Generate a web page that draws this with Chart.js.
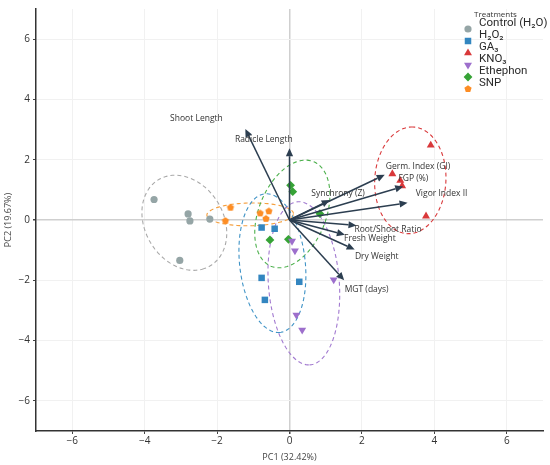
<!DOCTYPE html>
<html>
<head>
<meta charset="utf-8">
<script src="https://cdn.jsdelivr.net/npm/chart.js@4.4.1/dist/chart.umd.min.js"></script>
<style>
  html, body { margin: 0; padding: 0; background: #fff; }
  #wrap { width: 550px; height: 465px; }
</style>
</head>
<body>
<div id="wrap"><canvas id="pca"></canvas></div>
<script>
// scores per treatment (PC1, PC2)
const treatments = ["Control (H\u2082O)", "H\u2082O\u2082", "GA\u2083", "KNO\u2083", "Ethephon", "SNP"];
const controlPC1 = [-3.74, -2.80, -2.75, -2.20, -3.03];
const controlPC2 = [0.68, 0.20, -0.03, 0.03, -1.34];
const h2o2PC1 = [-0.77, -0.41, -0.77, -0.68, 0.27];
const h2o2PC2 = [-0.25, -0.29, -1.92, -2.65, -2.05];
const ga3PC1 = [3.90, 2.84, 3.06, 3.11, 3.77];
const ga3PC2 = [2.48, 1.53, 1.31, 1.13, 0.13];
const kno3PC1 = [0.07, 0.15, 1.22, 0.19, 0.35];
const kno3PC2 = [-0.70, -1.02, -1.98, -3.15, -3.65];
const ethephonPC1 = [0.03, 0.09, 0.84, -0.54, -0.03];
const ethephonPC2 = [1.15, 0.94, 0.21, -0.66, -0.64];
const snpPC1 = [-1.63, -1.77, -0.81, -0.57, -0.65];
const snpPC2 = [0.41, -0.03, 0.22, 0.29, 0.04];

// loadings (arrow tips) and where their labels sit, in PC units
const variables = ["Shoot Length", "Radicle Length", "Germ. Index (GI)", "FGP (%)", "Vigor Index II",
  "Synchrony (Z)", "Root/Shoot Ratio", "Fresh Weight", "Dry Weight", "MGT (days)"];
const loadPC1 = [-1.22, 0.00, 2.63, 3.14, 3.26, 1.11, 1.85, 1.53, 1.80, 1.51];
const loadPC2 = [3.02, 2.38, 1.50, 1.11, 0.57, 0.66, -0.18, -0.49, -0.98, -2.00];
const labelPC1 = [-2.57, -0.71, 3.55, 3.42, 4.20, 1.34, 2.72, 2.22, 2.41, 2.13];
const labelPC2 = [3.38, 2.68, 1.77, 1.39, 0.87, 0.87, -0.33, -0.61, -1.21, -2.32];

const tickValues = [-6, -4, -2, 0, 2, 4, 6];

const groupsPC1 = [controlPC1, h2o2PC1, ga3PC1, kno3PC1, ethephonPC1, snpPC1];
const groupsPC2 = [controlPC2, h2o2PC2, ga3PC2, kno3PC2, ethephonPC2, snpPC2];
const colors = ["#95a5a6", "#3386c0", "#d9383a", "#9d6fcc", "#36a336", "#fd8d24"];
const ellipseColors = ["#a9a9a9", "#3f93c6", "#d9383a", "#a27ad0", "#4cb04c", "#f5a040"];
const FONT = "'Open Sans', 'DejaVu Sans', sans-serif";
const LEGEND_FONT = "Roboto, 'DejaVu Sans', sans-serif";

function pentagon(color, r) {
  const c = document.createElement("canvas");
  const s = Math.ceil(r * 2 + 2);
  c.width = s; c.height = s;
  const g = c.getContext("2d");
  g.fillStyle = color;
  g.beginPath();
  for (let i = 0; i < 5; i++) {
    const a = -Math.PI / 2 + i * 2 * Math.PI / 5;
    const px = s / 2 + r * Math.cos(a), py = s / 2 + r * Math.sin(a);
    i ? g.lineTo(px, py) : g.moveTo(px, py);
  }
  g.closePath();
  g.fill();
  return c;
}

const markers = [
  { pointStyle: "circle", radius: 3.6, rotation: 0 },
  { pointStyle: "rect", radius: 4.6, rotation: 0 },
  { pointStyle: "triangle", radius: 4.6, rotation: 0 },
  { pointStyle: "triangle", radius: 4.6, rotation: 180 },
  { pointStyle: "rectRot", radius: 4.4, rotation: 0 },
  { pointStyle: pentagon(colors[5], 3.8), radius: 4, rotation: 0 }
];

// confidence-style ellipse from the group's mean and sample covariance
function ellipse(xs, ys, k) {
  const n = xs.length;
  const mx = xs.reduce((a, b) => a + b, 0) / n;
  const my = ys.reduce((a, b) => a + b, 0) / n;
  let sxx = 0, syy = 0, sxy = 0;
  for (let i = 0; i < n; i++) {
    sxx += (xs[i] - mx) ** 2;
    syy += (ys[i] - my) ** 2;
    sxy += (xs[i] - mx) * (ys[i] - my);
  }
  sxx /= n - 1; syy /= n - 1; sxy /= n - 1;
  const tr = sxx + syy, det = sxx * syy - sxy * sxy;
  const d = Math.sqrt(Math.max(tr * tr / 4 - det, 0));
  const l1 = tr / 2 + d, l2 = Math.max(tr / 2 - d, 0);
  const th = 0.5 * Math.atan2(2 * sxy, sxx - syy);
  const a = k * Math.sqrt(l1), b = k * Math.sqrt(l2);
  const pts = [];
  for (let i = 0; i <= 120; i++) {
    const t = i / 120 * 2 * Math.PI;
    pts.push({
      x: mx + a * Math.cos(t) * Math.cos(th) - b * Math.sin(t) * Math.sin(th),
      y: my + a * Math.cos(t) * Math.sin(th) + b * Math.sin(t) * Math.cos(th)
    });
  }
  return pts;
}

const datasets = [];
treatments.forEach((name, i) => {
  datasets.push({
    label: name,
    data: groupsPC1[i].map((x, j) => ({ x: x, y: groupsPC2[i][j] })),
    backgroundColor: colors[i],
    borderWidth: 0,
    pointStyle: markers[i].pointStyle,
    pointRadius: markers[i].radius,
    pointRotation: markers[i].rotation,
    order: 1
  });
  datasets.push({
    label: name + " ellipse",
    data: ellipse(groupsPC1[i], groupsPC2[i], 2.1),
    showLine: true,
    borderColor: ellipseColors[i],
    borderWidth: 1.1,
    borderDash: [4, 3],
    pointRadius: 0,
    fill: false,
    order: 2
  });
});

const biplot = {
  id: "biplot",
  afterDatasetsDraw(chart) {
    const ctx = chart.ctx, xs = chart.scales.x, ys = chart.scales.y;
    const ox = xs.getPixelForValue(0), oy = ys.getPixelForValue(0);
    ctx.save();
    ctx.strokeStyle = "#2c3e50";
    ctx.fillStyle = "#2c3e50";
    ctx.lineWidth = 1.5;
    variables.forEach((v, i) => {
      const tx = xs.getPixelForValue(loadPC1[i]), ty = ys.getPixelForValue(loadPC2[i]);
      const ang = Math.atan2(ty - oy, tx - ox);
      const hl = 8, hw = 3.6;
      const bx = tx - hl * Math.cos(ang), by = ty - hl * Math.sin(ang);
      ctx.beginPath();
      ctx.moveTo(ox, oy);
      ctx.lineTo(bx, by);
      ctx.stroke();
      ctx.beginPath();
      ctx.moveTo(tx, ty);
      ctx.lineTo(bx + hw * Math.sin(ang), by - hw * Math.cos(ang));
      ctx.lineTo(bx - hw * Math.sin(ang), by + hw * Math.cos(ang));
      ctx.closePath();
      ctx.fill();
    });
    ctx.fillStyle = "#333";
    ctx.font = "8.5px " + FONT;
    ctx.textAlign = "center";
    ctx.textBaseline = "middle";
    variables.forEach((v, i) => {
      ctx.fillText(v, xs.getPixelForValue(labelPC1[i]), ys.getPixelForValue(labelPC2[i]));
    });
    ctx.restore();
  },
  afterDraw(chart) {
    const ctx = chart.ctx, area = chart.chartArea;
    ctx.save();
    // axis titles
    ctx.fillStyle = "#444";
    ctx.font = "9px " + FONT;
    ctx.textAlign = "center";
    ctx.textBaseline = "middle";
    ctx.fillText("PC1 (32.42%)", (area.left + area.right) / 2, area.bottom + 26);
    ctx.translate(area.left - 28, (area.top + area.bottom) / 2);
    ctx.rotate(-Math.PI / 2);
    ctx.fillText("PC2 (19.67%)", 0, 0);
    ctx.restore();

    // legend
    ctx.save();
    ctx.fillStyle = "#333";
    ctx.textBaseline = "middle";
    ctx.textAlign = "left";
    ctx.font = "8px " + FONT;
    ctx.fillText("Treatments", 474, 15);
    treatments.forEach((name, i) => {
      ctx.fillStyle = colors[i];
      Chart.helpers.drawPoint(ctx, {
        pointStyle: markers[i].pointStyle,
        radius: markers[i].radius,
        rotation: markers[i].rotation,
        borderWidth: 0
      }, 468, 29 + 12 * i);
      ctx.fillStyle = "#2a2a2a";
      ctx.font = "11.5px " + LEGEND_FONT;
      ctx.fillText(name, 479, 23 + 12.1 * i);
    });
    ctx.restore();
  }
};

function axis(isX) {
  return {
    type: "linear",
    min: -7,
    max: 7,
    afterBuildTicks: (s) => { s.ticks = tickValues.map(v => ({ value: v })); },
    afterFit: (s) => { if (isX) s.height = 34; else s.width = 36; },
    grid: {
      color: (c) => (c.tick && c.tick.value === 0 ? "#cfcfcf" : "#f1f1f1"),
      lineWidth: (c) => (c.tick && c.tick.value === 0 ? 1.5 : 1),
      tickColor: "#444",
      tickLength: 3
    },
    border: { color: "#333", width: 1.5 },
    ticks: {
      color: "#333",
      font: { family: FONT, size: 10 },
      padding: isX ? 1 : 3,
      callback: (v) => (v < 0 ? "\u2212" + Math.abs(v) : String(v))
    }
  };
}

new Chart(document.getElementById("pca"), {
  type: "scatter",
  data: { datasets: datasets },
  options: {
    responsive: true,
    maintainAspectRatio: false,
    animation: false,
    layout: { padding: { top: 4, right: 7, left: 0, bottom: 0 } },
    plugins: { legend: { display: false }, tooltip: { enabled: false } },
    scales: { x: axis(true), y: axis(false) }
  },
  plugins: [biplot]
});
</script>
</body>
</html>
